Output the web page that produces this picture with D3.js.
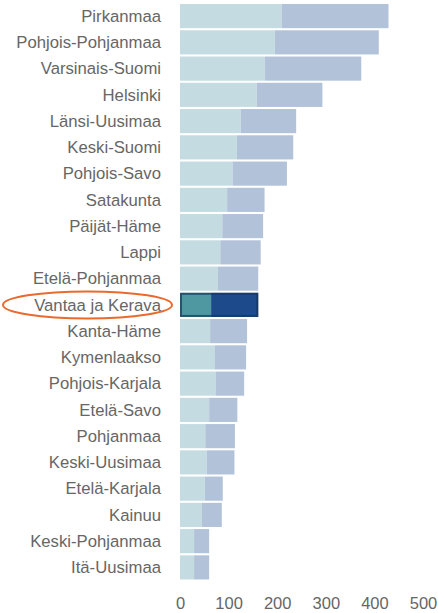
<!DOCTYPE html>
<html>
<head>
<meta charset="utf-8">
<script src="https://cdn.jsdelivr.net/npm/d3@7"></script>
<style>
	body { margin: 0; background: #fff; }
	text { font-family: "Liberation Sans", Arial, sans-serif; }
</style>
</head>
<body>
<svg id="canvas" width="438" height="613"></svg>
<script>
let regions = ['Pirkanmaa', 'Pohjois-Pohjanmaa', 'Varsinais-Suomi', 'Helsinki', 'Länsi-Uusimaa',
	'Keski-Suomi', 'Pohjois-Savo', 'Satakunta', 'Päijät-Häme', 'Lappi', 'Etelä-Pohjanmaa',
	'Vantaa ja Kerava', 'Kanta-Häme', 'Kymenlaakso', 'Pohjois-Karjala', 'Etelä-Savo',
	'Pohjanmaa', 'Keski-Uusimaa', 'Etelä-Karjala', 'Kainuu', 'Keski-Pohjanmaa', 'Itä-Uusimaa'];
let firstPart = [209, 195, 175, 158, 125, 117, 108, 97, 87, 83, 78, 64, 62, 72, 74, 60, 52, 55, 51, 45, 29, 29];
let secondPart = [220, 214, 198, 135, 114, 116, 112, 77, 84, 83, 83, 97, 76, 64, 58, 58, 61, 57, 37, 41, 31, 31];
let ticks = [0, 100, 200, 300, 400, 500];
let highlight = 'Vantaa ja Kerava';

let canvas = d3.select('#canvas');

let x = d3.scaleLinear().domain([0, 500]).range([180, 423]);
let y = d3.scaleBand().domain(regions).range([3.5, 580]).paddingInner(0.08).paddingOuter(0.02);

let rows = regions.map((name, i) => {
	return { name: name, a: firstPart[i], b: secondPart[i] };
});

let row = canvas
	.selectAll('g.row')
	.data(rows)
	.enter()
	.append('g')
	.attr('class', 'row');

row
	.append('rect')
	.attr('x', x(0))
	.attr('y', (d) => y(d.name))
	.attr('width', (d) => x(d.a) - x(0))
	.attr('height', y.bandwidth())
	.attr('fill', (d) => (d.name === highlight ? '#4f97a1' : '#c4dce1'));

row
	.append('rect')
	.attr('x', (d) => x(d.a))
	.attr('y', (d) => y(d.name))
	.attr('width', (d) => x(d.a + d.b) - x(d.a))
	.attr('height', y.bandwidth())
	.attr('fill', (d) => (d.name === highlight ? '#1c4a8a' : '#b2c2d9'));

// outline around the highlighted bar
let hl = rows.find((d) => d.name === highlight);
canvas
	.append('rect')
	.attr('x', x(0) + 1)
	.attr('y', y(hl.name) + 1)
	.attr('width', x(hl.a + hl.b) - x(0) - 2)
	.attr('height', y.bandwidth() - 2)
	.attr('fill', 'none')
	.attr('stroke', '#17355a')
	.attr('stroke-opacity', 0.7)
	.attr('stroke-width', 2);

row
	.append('text')
	.attr('x', 161)
	.attr('y', (d) => y(d.name) + y.bandwidth() / 2)
	.attr('dy', '0.35em')
	.attr('text-anchor', 'end')
	.attr('font-size', 16.7)
	.attr('fill', '#666')
	.text((d) => d.name);

// orange ring round the highlighted label
canvas
	.append('ellipse')
	.attr('cx', 87.5)
	.attr('cy', y(highlight) + y.bandwidth() / 2)
	.attr('rx', 84.5)
	.attr('ry', 13.5)
	.attr('fill', 'none')
	.attr('stroke', '#ea6a2e')
	.attr('stroke-width', 2);

let axis = d3.axisBottom(x).tickValues(ticks).tickSize(0).tickPadding(0);
let gAxis = canvas.append('g').attr('transform', 'translate(0, 597)').call(axis);
gAxis.select('.domain').remove();
gAxis
	.selectAll('text')
	.attr('font-size', 16.5)
	.attr('fill', '#666')
	.attr('font-family', '"Liberation Sans", Arial, sans-serif');
</script>
</body>
</html>
